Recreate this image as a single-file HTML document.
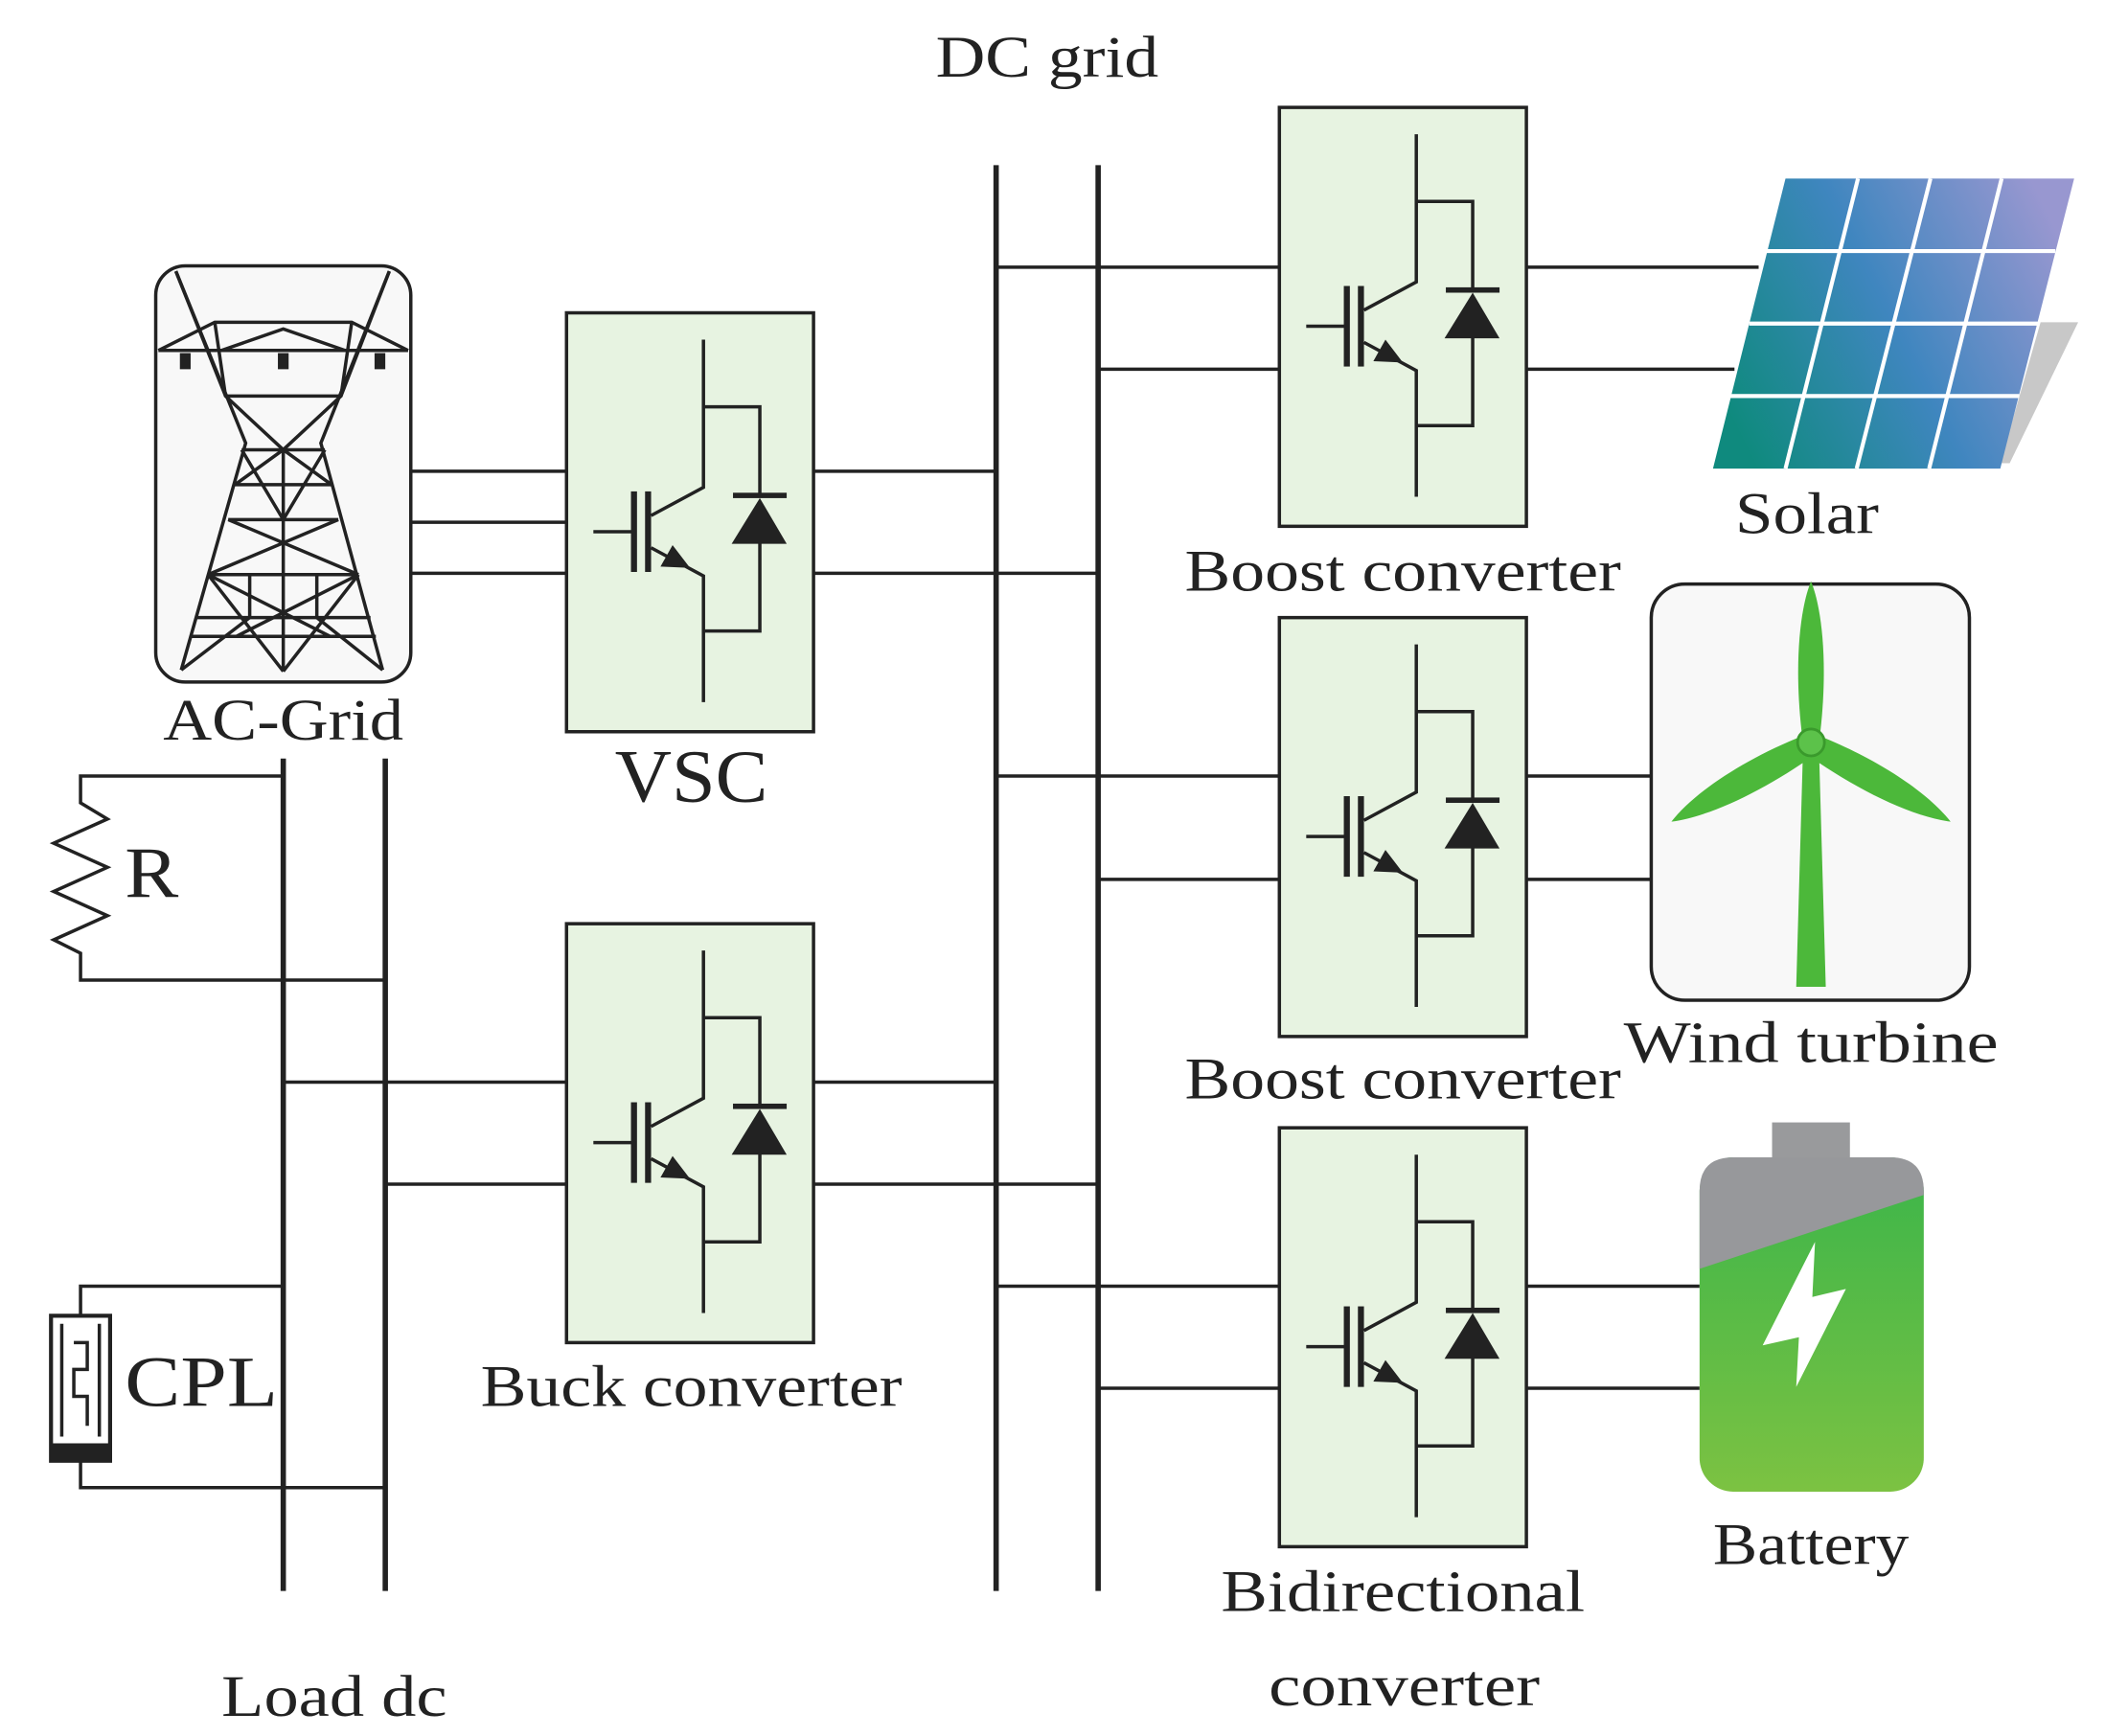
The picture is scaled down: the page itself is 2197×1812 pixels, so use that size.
<!DOCTYPE html>
<html><head><meta charset="utf-8"><style>
html,body{margin:0;padding:0;background:#fff}
svg{display:block}
text{font-family:"Liberation Serif",serif;fill:#222}
</style></head><body>
<svg width="2197" height="1812" viewBox="0 0 1568 1293" preserveAspectRatio="none" xmlns="http://www.w3.org/2000/svg">
<defs>
<g id="sw">
<rect x="0" y="0" width="184" height="312" fill="#e7f3e1" stroke="#222" stroke-width="2.5"/>
<g stroke="#222" stroke-width="2.5" fill="none">
<path d="M102,20 V130 L63,151"/>
<path d="M102,290 V196 L63,175"/>
<path d="M102,70 H144 V137 M144,170 V237 H102"/>
<path d="M20,163 H49"/>
</g>
<rect x="48" y="133" width="4.5" height="60" fill="#222"/>
<rect x="58.5" y="133" width="4.5" height="60" fill="#222"/>
<path d="M70,189 L79,173 L92,190 Z" fill="#222"/>
<rect x="124" y="134" width="40" height="4" fill="#222"/>
<path d="M144,138 L123,172 L164,172 Z" fill="#222"/>
</g>
<linearGradient id="sol" x1="0" y1="0.7" x2="1" y2="0.3">
<stop offset="0" stop-color="#0f8a7e"/><stop offset="0.5" stop-color="#3f86bf"/><stop offset="1" stop-color="#9897d0"/>
</linearGradient>
<linearGradient id="bat" x1="0" y1="0" x2="0" y2="1">
<stop offset="0" stop-color="#3bb54a"/><stop offset="1" stop-color="#7cc242"/>
</linearGradient>
</defs>

<g stroke="#222" stroke-width="4">
<line x1="742" y1="123" x2="742" y2="1185"/>
<line x1="818" y1="123" x2="818" y2="1185"/>
<line x1="211" y1="565" x2="211" y2="1185"/>
<line x1="287" y1="565" x2="287" y2="1185"/>
</g>
<g stroke="#222" stroke-width="2.5" fill="none">
<line x1="306" y1="351" x2="422" y2="351"/>
<line x1="306" y1="389" x2="422" y2="389"/>
<line x1="306" y1="427" x2="422" y2="427"/>
<line x1="606" y1="351" x2="742" y2="351"/>
<line x1="606" y1="427" x2="818" y2="427"/>
<line x1="211" y1="806" x2="422" y2="806"/>
<line x1="287" y1="882" x2="422" y2="882"/>
<line x1="606" y1="806" x2="742" y2="806"/>
<line x1="606" y1="882" x2="818" y2="882"/>
<line x1="742" y1="199" x2="953" y2="199"/>
<line x1="818" y1="275" x2="953" y2="275"/>
<line x1="1138" y1="199" x2="1310" y2="199"/>
<line x1="1138" y1="275" x2="1292" y2="275"/>
<line x1="742" y1="578" x2="953" y2="578"/>
<line x1="818" y1="655" x2="953" y2="655"/>
<line x1="1138" y1="578" x2="1230" y2="578"/>
<line x1="1138" y1="655" x2="1230" y2="655"/>
<line x1="742" y1="958" x2="953" y2="958"/>
<line x1="818" y1="1034" x2="953" y2="1034"/>
<line x1="1138" y1="958" x2="1266" y2="958"/>
<line x1="1138" y1="1034" x2="1266" y2="1034"/>
<path d="M211,578 H60 V598 L80,610 L40,628 L80,646 L40,664 L80,682 L40,700 L60,710 V730 H287"/>
<path d="M211,958 H60 V980 M60,1088 V1108 H287"/>
</g>
<rect x="38" y="980" width="44" height="108" fill="#fff" stroke="#222" stroke-width="3"/>
<rect x="38" y="1075" width="44" height="13" fill="#222"/>
<path d="M46,986 V1070 M74,986 V1070 M55,1000 H65 V1020 H55 V1040 H65 V1062" stroke="#222" stroke-width="2.5" fill="none"/>

<use href="#sw" x="422" y="233"/>
<use href="#sw" x="422" y="688"/>
<use href="#sw" x="953" y="80"/>
<use href="#sw" x="953" y="460"/>
<use href="#sw" x="953" y="840"/>

<rect x="116" y="198" width="190" height="310" rx="22" fill="#f8f8f8" stroke="#222" stroke-width="2.5"/>
<g stroke="#222" stroke-width="2.5" fill="none">
<path d="M131,202 L183,330 L135,499"/>
<path d="M290,202 L239,330 L285,499"/>
<path d="M131,202 L168,295 M290,202 L254,295"/>
<path d="M118,261 H304 M118,261 L160,240 H262 L304,261 M165,261 L211,245 L257,261"/>
<path d="M168,295 H254 M160,240 L168,295 L211,335 L254,295 L262,240"/>
<path d="M180,335 H242 M175,361 H247 M170,387 H252 M155,428 H267 M146,460 H276 M142,474 H280"/>
<path d="M180,335 L211,387 L242,335 M175,361 L211,335 L247,361"/>
<path d="M211,335 V500"/>
<path d="M170,387 L267,428 M252,387 L155,428"/>
<path d="M155,428 L211,500 M267,428 L211,500 M155,428 L246,474 M267,428 L176,474"/>
<path d="M186,428 V460 M236,428 V460"/>
<path d="M135,499 L186,460 M285,499 L236,460"/>
</g>
<rect x="134" y="263" width="8" height="12" fill="#222"/>
<rect x="207" y="263" width="8" height="12" fill="#222"/>
<rect x="279" y="263" width="8" height="12" fill="#222"/>

<path d="M1520,240 L1548,240 L1497,345 L1490,345 Z" fill="#c8c8c8"/>
<path d="M1330,133 L1545,133 L1490,349 L1276,349 Z" fill="url(#sol)"/>
<g stroke="#fff" stroke-width="3">
<line x1="1316" y1="187" x2="1531" y2="187"/>
<line x1="1303" y1="241" x2="1518" y2="241"/>
<line x1="1289" y1="295" x2="1504" y2="295"/>
<line x1="1384" y1="133" x2="1330" y2="349"/>
<line x1="1438" y1="133" x2="1383" y2="349"/>
<line x1="1491" y1="133" x2="1437" y2="349"/>
</g>

<rect x="1230" y="435" width="237" height="310" rx="25" fill="#f8f8f8" stroke="#222" stroke-width="2.5"/>
<path d="M1343,560 L1355,560 L1360,735 L1338,735 Z" fill="#4cb83a"/>
<path d="M1343,553 C1336,500 1340,455 1349,433 C1358,455 1362,500 1355,553 Z" fill="#4cb83a"/>
<path d="M1343,548 C1300,565 1262,590 1245,612 C1275,608 1315,588 1352,562 Z" fill="#4cb83a"/>
<path d="M1355,548 C1398,565 1436,590 1453,612 C1423,608 1383,588 1346,562 Z" fill="#4cb83a"/>
<circle cx="1349" cy="553" r="10" fill="#5cc24a" stroke="#3a9a2c" stroke-width="2"/>

<rect x="1320" y="836" width="58" height="30" fill="#999a9c"/>
<rect x="1266" y="862" width="167" height="249" rx="25" fill="url(#bat)"/>
<path d="M1266,945 L1433,890 L1433,887 Q1433,862 1408,862 L1291,862 Q1266,862 1266,887 Z" fill="#97989b"/>
<path d="M1352,925 L1313,1002 L1340,996 L1338,1033 L1375,960 L1350,966 Z" fill="#fff"/>

<g font-size="44" text-anchor="middle" lengthAdjust="spacingAndGlyphs">
<text x="780" y="57" textLength="166" lengthAdjust="spacingAndGlyphs">DC grid</text>
<text x="211" y="551" textLength="179" lengthAdjust="spacingAndGlyphs">AC-Grid</text>
<text x="515" y="597" font-size="56" textLength="114" lengthAdjust="spacingAndGlyphs">VSC</text>
<text x="515" y="1047" textLength="314" lengthAdjust="spacingAndGlyphs">Buck converter</text>
<text x="1045" y="440" textLength="325" lengthAdjust="spacingAndGlyphs">Boost converter</text>
<text x="1045" y="818" textLength="325" lengthAdjust="spacingAndGlyphs">Boost converter</text>
<text x="1045" y="1200" textLength="271" lengthAdjust="spacingAndGlyphs">Bidirectional</text>
<text x="1046" y="1270" textLength="202" lengthAdjust="spacingAndGlyphs">converter</text>
<text x="1346" y="397" textLength="107" lengthAdjust="spacingAndGlyphs">Solar</text>
<text x="1349" y="791" textLength="279" lengthAdjust="spacingAndGlyphs">Wind turbine</text>
<text x="1349" y="1165" textLength="146" lengthAdjust="spacingAndGlyphs">Battery</text>
<text x="249" y="1278" textLength="168" lengthAdjust="spacingAndGlyphs">Load dc</text>
</g>
<text x="93" y="668" font-size="54" textLength="40" lengthAdjust="spacingAndGlyphs">R</text>
<text x="93" y="1047" font-size="54" textLength="114" lengthAdjust="spacingAndGlyphs">CPL</text>
</svg>
</body></html>
